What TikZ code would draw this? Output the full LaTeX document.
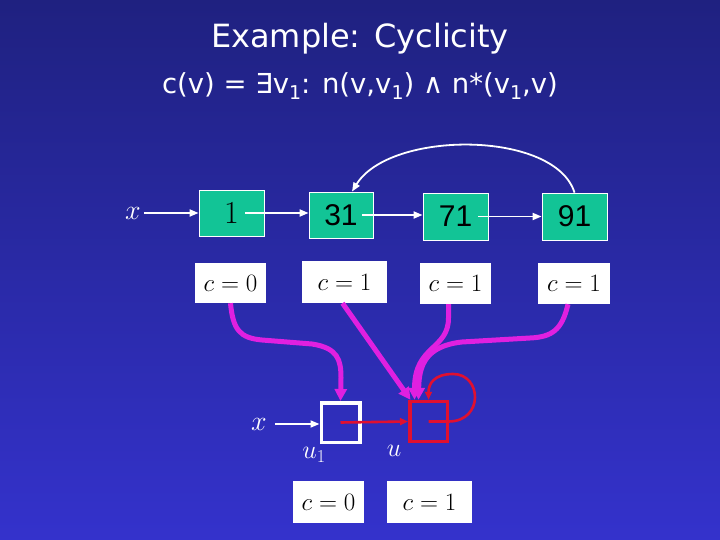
\documentclass[tikz,border=0pt]{standalone}
\usepackage{fix-cm}
\usepackage{fontspec}
\newfontfamily\ttlfont{DejaVu Sans}
\newfontfamily\arialfont{Liberation Sans}
\usetikzlibrary{arrows.meta}
\definecolor{bgtop}{RGB}{31,33,128}
\definecolor{bgbot}{RGB}{52,50,204}
\definecolor{boxgreen}{RGB}{18,196,150}
\definecolor{mag}{RGB}{224,32,224}
\definecolor{redc}{RGB}{224,16,48}
\newcommand{\lowone}{\raisebox{-0.35ex}{\fontsize{19}{19}\selectfont 1}}
\begin{document}
\begin{tikzpicture}[x=1pt,y=-1pt,
  greenbox/.style={draw=white, line width=0.8pt, fill=boxgreen, inner sep=0pt, text=black},
  clabel/.style={fill=white, inner sep=0pt, text=black, font=\fontsize{25}{25}\selectfont},
  wlab/.style={text=white, inner sep=3pt, font=\fontsize{28}{28}\selectfont},
  warrow/.style={draw=white, line width=1.8pt, -{Triangle[length=9pt,width=7pt]}},
  marrow/.style={draw=mag, line width=5pt, -{Triangle[length=12pt,width=12pt]}},
  rarrow/.style={draw=redc, line width=2.6pt, -{Triangle[length=8pt,width=7pt]}}]
\shade[top color=bgtop, bottom color=bgbot] (0,0) rectangle (720,540);
\useasboundingbox (0,0) rectangle (720,540);

\node[text=white, anchor=base, font=\ttlfont\fontsize{32}{32}\selectfont] (title) at (360,48) {Example: Cyclicity};
\node[text=white, anchor=base, font=\ttlfont\fontsize{27.5}{27.5}\selectfont] (formula) at (360,94) {c(v) = ∃v\lowone: n(v,v\lowone) ∧ n*(v\lowone,v)};

% top list
\node[greenbox, minimum width=65pt, minimum height=46pt, font=\fontsize{32}{32}\selectfont] (n1) at (231.5,213) {1};
\node[greenbox, minimum width=64pt, minimum height=46pt, font=\arialfont\fontsize{30}{30}\selectfont] (n31) at (341,215) {31};
\node[greenbox, minimum width=65pt, minimum height=47pt, font=\arialfont\fontsize{30}{30}\selectfont] (n71) at (455.5,216.5) {71};
\node[greenbox, minimum width=65pt, minimum height=47pt, font=\arialfont\fontsize{30}{30}\selectfont] (n91) at (574.5,216.5) {91};

\coordinate (s1) at (245,213);
\coordinate (s31) at (362,215);
\coordinate (s71) at (478,216.5);

\node[wlab] (xt) at (133,213) {$x$};
\draw[warrow] (xt) -- (xt -| n1.west);
\draw[warrow] (s1) -- (s1 -| n31.west);
\draw[warrow] (s31) -- (s31 -| n71.west);
\draw[warrow] (s71) -- (s71 -| n91.west);
\draw[warrow] (n91.north) .. controls (555,130) and (390,130) .. ([xshift=11pt]n31.north);

\node[clabel, minimum width=71pt, minimum height=40pt] (c0) at (230.5,283) {$c=0$};
\node[clabel, minimum width=85pt, minimum height=42pt] (c31) at (344.5,282) {$c=1$};
\node[clabel, minimum width=71pt, minimum height=41pt] (c71) at (455.5,283.5) {$c=1$};
\node[clabel, minimum width=72pt, minimum height=41pt] (c91) at (574,283.5) {$c=1$};

% bottom structure
\node[draw=white, line width=3.5pt, minimum width=38.5pt, minimum height=39.5pt, inner sep=0pt] (u1) at (340.5,422.5) {};
\node[draw=redc, line width=3.5pt, minimum width=37.5pt, minimum height=40pt, inner sep=0pt] (u) at (428.5,421.5) {};

\node[wlab] (xb) at (259,424) {$x$};
\draw[warrow, shorten <=5pt] (xb) -- (xb -| u1.west);
\draw[rarrow] (u1.center) -- (u.west);
\draw[rarrow] (u.center) -- (u.east) .. controls (484,421) and (482,374) .. (453,374) .. controls (434,374) and (428.5,384) .. (u.north);

\node[wlab, inner sep=0pt, font=\fontsize{26}{26}\selectfont] (lu1) at (314,455) {$u_1$};
\node[wlab, inner sep=0pt, font=\fontsize{26}{26}\selectfont] (lu) at (394,451) {$u$};

\node[clabel, minimum width=71pt, minimum height=42pt] (b0) at (328.5,502) {$c=0$};
\node[clabel, minimum width=85pt, minimum height=42pt] (b1) at (429.5,502) {$c=1$};

% magenta arrows
\draw[marrow] (c0.south) .. controls (233,330) and (240,338) .. (262,340) -- (312,344) .. controls (338,348) and (341,360) .. (341,378) -- (u1.north);
\draw[marrow] ([xshift=-2pt]c31.south) -- ([xshift=-18pt]u.north);
\draw[marrow] ([xshift=-7pt]c71.south) -- (448.5,318) .. controls (448.5,350) and (414.5,345) .. ([xshift=-14pt]u.north);
\draw[marrow] ([xshift=-6pt]c91.south) .. controls (562,330) and (552,337) .. (530,338) -- (462,342) .. controls (426,346) and (419,365) .. ([xshift=-10pt]u.north);
\end{tikzpicture}
\end{document}
